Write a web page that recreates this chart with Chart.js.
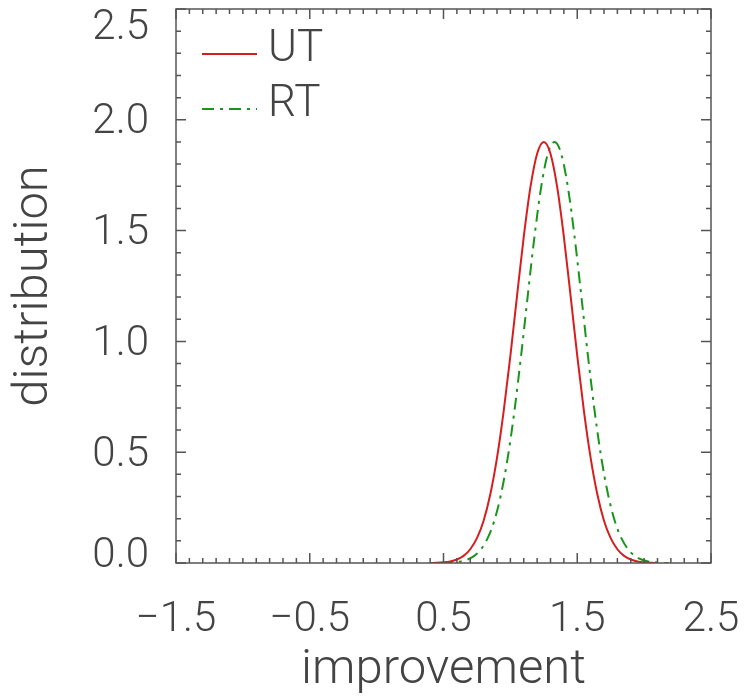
<!DOCTYPE html>
<html>
<head>
<meta charset="utf-8">
<script src="https://cdn.jsdelivr.net/npm/chart.js@4.4.1/dist/chart.umd.min.js"></script>
<style>
  html, body { margin: 0; padding: 0; background: #fff; }
  #wrap { width: 748px; height: 700px; }
</style>
</head>
<body>
<div id="wrap"><canvas id="c"></canvas></div>
<script>
// values
const utX = [0.40,0.45,0.50,0.55,0.60,0.65,0.70,0.75,0.80,0.85,0.90,0.95,1.00,1.05,1.10,1.15,1.20,1.25,1.30,1.35,1.40,1.45,1.50,1.55,1.60,1.65,1.70,1.75,1.80,1.85,1.90,1.95,2.00,2.05,2.10];
const utY = [0.000,0.001,0.003,0.007,0.016,0.032,0.062,0.112,0.191,0.310,0.474,0.685,0.935,1.207,1.472,1.696,1.847,1.900,1.847,1.696,1.472,1.207,0.935,0.685,0.474,0.310,0.191,0.112,0.062,0.032,0.016,0.007,0.003,0.001,0.000];
const rtX = [0.48,0.53,0.58,0.63,0.68,0.73,0.78,0.83,0.88,0.93,0.98,1.03,1.08,1.13,1.18,1.23,1.28,1.33,1.38,1.43,1.48,1.53,1.58,1.63,1.68,1.73,1.78,1.83,1.88,1.93,1.98,2.03,2.08,2.13,2.18];
const rtY = [0.000,0.001,0.003,0.007,0.016,0.032,0.062,0.112,0.191,0.310,0.474,0.685,0.935,1.207,1.472,1.696,1.847,1.900,1.847,1.696,1.472,1.207,0.935,0.685,0.474,0.310,0.191,0.112,0.062,0.032,0.016,0.007,0.003,0.001,0.000];
const xTicks = [-1.5, -0.5, 0.5, 1.5, 2.5];
const yTicks = [0, 0.5, 1.0, 1.5, 2.0, 2.5];
const seriesNames = ['UT', 'RT'];

const FONT = "Roboto, 'DejaVu Sans', sans-serif";
const INK = '#444';

const fmt = v => (v < 0 ? '\u2212' : '') + Math.abs(v).toFixed(1);

// box with inward major/minor ticks on all four sides
const frame = {
  id: 'frame',
  afterDatasetsDraw(chart) {
    const { ctx, chartArea: a, scales: { x, y } } = chart;
    ctx.save();
    ctx.strokeStyle = '#555';
    ctx.lineWidth = 1.5;
    ctx.strokeRect(a.left, a.top, a.right - a.left, a.bottom - a.top);
    ctx.beginPath();
    for (let i = 0; i <= 40; i++) {
      const px = x.getPixelForValue(x.min + i * 0.1);
      const len = i % 10 === 0 ? 10 : 5;
      ctx.moveTo(px, a.bottom); ctx.lineTo(px, a.bottom - len);
      ctx.moveTo(px, a.top); ctx.lineTo(px, a.top + len);
    }
    for (let i = 0; i <= 25; i++) {
      const py = y.getPixelForValue(i * 0.1);
      const len = i % 5 === 0 ? 10 : 5;
      ctx.moveTo(a.left, py); ctx.lineTo(a.left + len, py);
      ctx.moveTo(a.right, py); ctx.lineTo(a.right - len, py);
    }
    ctx.stroke();

    // legend in the top-left corner
    ctx.font = '300 44px ' + FONT;
    ctx.textBaseline = 'middle';
    ctx.fillStyle = INK;
    chart.data.datasets.forEach((ds, i) => {
      const ly = a.top + 45 + i * 55;
      ctx.strokeStyle = ds.borderColor;
      ctx.lineWidth = 2;
      ctx.setLineDash(ds.borderDash || []);
      ctx.beginPath();
      ctx.moveTo(a.left + 26, ly);
      ctx.lineTo(a.left + 81, ly);
      ctx.stroke();
      ctx.setLineDash([]);
      ctx.fillText(ds.label, a.left + 92, ly - 4);
    });
    ctx.restore();
  }
};

new Chart(document.getElementById('c'), {
  type: 'line',
  data: {
    datasets: [{
      label: seriesNames[0],
      data: utX.map((v, i) => ({ x: v, y: utY[i] })),
      borderColor: 'rgb(215,30,30)',
      borderWidth: 2,
      pointRadius: 0,
      cubicInterpolationMode: 'monotone'
    }, {
      label: seriesNames[1],
      data: rtX.map((v, i) => ({ x: v, y: rtY[i] })),
      borderColor: 'rgb(25,150,25)',
      borderWidth: 2,
      borderDash: [12, 6, 3, 6],
      pointRadius: 0,
      cubicInterpolationMode: 'monotone'
    }]
  },
  options: {
    responsive: true,
    maintainAspectRatio: false,
    animation: false,
    layout: { padding: { top: 9, right: 37, left: 0, bottom: 0 } },
    plugins: { legend: { display: false }, tooltip: { enabled: false } },
    scales: {
      x: {
        type: 'linear',
        min: -1.5,
        max: 2.5,
        afterBuildTicks: s => { s.ticks = xTicks.map(v => ({ value: v })); },
        afterFit: s => { s.height = 137; s.paddingLeft = 0; s.paddingRight = 0; },
        grid: { display: false },
        border: { display: false },
        ticks: { color: INK, padding: 24, maxRotation: 0, font: { family: FONT, size: 42, weight: 300 }, callback: v => fmt(v) },
        title: { display: true, text: 'improvement', color: INK, padding: { top: 0, bottom: 0 }, font: { family: FONT, size: 49, weight: 300 } }
      },
      y: {
        min: 0,
        max: 2.5,
        afterBuildTicks: s => { s.ticks = yTicks.map(v => ({ value: v })); },
        afterFit: s => { s.width = 176; s.paddingTop = 0; s.paddingBottom = 0; },
        grid: { display: false },
        border: { display: false },
        ticks: {
          color: INK,
          padding: 19,
          labelOffset: 3,
          // top and bottom labels sit a little inside the frame, as in the original
          font: c => ({ family: FONT, size: 42, weight: 300,
            lineHeight: c.tick && c.tick.value === 2.5 ? 0.8 : (c.tick && c.tick.value === 0 ? 0.45 : 1.2) }),
          callback: v => v === 2.5 ? ['', fmt(v)] : (v === 0 ? [fmt(v), ''] : fmt(v))
        },
        title: { display: true, text: 'distribution', color: INK, padding: { top: 5, bottom: 0 }, font: { family: FONT, size: 49, weight: 300 } }
      }
    }
  },
  plugins: [frame]
});
</script>
</body>
</html>
